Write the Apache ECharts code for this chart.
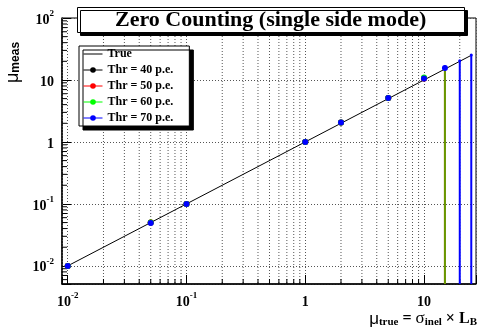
<!DOCTYPE html>
<html><head><meta charset="utf-8">
<script src="https://cdn.jsdelivr.net/npm/echarts@6/dist/echarts.min.js"></script>
<style>html,body{margin:0;padding:0;background:#fff}#c{width:479px;height:331px}</style>
</head><body><div id="c"></div>
<script>
// ---- data ----
const titleText = 'Zero Counting (single side mode)';
const seriesNames = ['True', 'Thr = 40 p.e.', 'Thr = 50 p.e.', 'Thr = 60 p.e.', 'Thr = 70 p.e.'];
const seriesColors = ['#000000', '#000000', '#ff0000', '#00ff00', '#0000ff'];
const xDecades = [0.01, 0.1, 1, 10];
const xTickBase = ['10', '10', '1', '10'];
const xTickExp = ['-2', '-1', '', ''];
const yDecades = [0.01, 0.1, 1, 10, 100];
const yTickBase = ['10', '10', '1', '10', '10'];
const yTickExp = ['-2', '-1', '', '', '2'];
const trueX = [0.01, 25];
const trueY = [0.01, 25];
const muTrue = [0.01, 0.05, 0.1, 1, 2, 5, 10, 15, 20, 25];
const thr40 = [0.01, 0.05, 0.1, 1, 2.05, 5.1, 10.6, null, null, null];
const thr40Lo = [null, null, null, null, null, null, null, null, null, null];
const thr40Hi = [null, null, null, null, null, null, null, null, null, null];
const thr50 = [0.01, 0.05, 0.1, 1, 2.05, 5.1, 10.6, 15.5, null, null];
const thr50Lo = [null, null, null, null, null, null, null, 0, null, null];
const thr50Hi = [null, null, null, null, null, null, null, 15.5, null, null];
const thr60 = [0.01, 0.05, 0.1, 1, 2.05, 5.1, 10.95, 15.5, null, null];
const thr60Lo = [null, null, null, null, null, null, null, 0, null, null];
const thr60Hi = [null, null, null, null, null, null, null, 15.5, null, null];
const thr70 = [0.01, 0.049, 0.1, 1, 2.05, 5.1, 10.6, 15.6, 20.4, 25.2];
const thr70Lo = [null, null, null, null, null, null, null, 14.3, 0, 0];
const thr70Hi = [null, null, null, null, null, null, null, 17.2, 20.8, 25.6];
const xRange = [0.00895, 27.4];
const yRange = [0.0051, 100];

// ---- helpers ----
const serif = 'Liberation Serif';
const sans = 'Liberation Sans';
function minorValues(decades, range) {
  const out = [];
  const all = [decades[0] / 10].concat(decades);
  all.forEach(d => { for (let k = 2; k <= 9; k++) { const v = k * d; if (v > range[0] && v < range[1]) out.push(v); } });
  return out;
}
const xMinor = minorValues(xDecades, xRange);
const yMinor = minorValues(yDecades, yRange);
function labelFor(decades, bases, exps) {
  return function (v) {
    for (let i = 0; i < decades.length; i++) {
      if (Math.abs(Math.log10(v) - Math.log10(decades[i])) < 1e-6) {
        return exps[i] ? '{b|' + bases[i] + '}{s|' + exps[i] + '}' : '{b|' + bases[i] + '}';
      }
    }
    return '';
  };
}
const tickRich = {
  b: { fontSize: 14, fontWeight: 'bold', fontFamily: serif, color: '#000', lineHeight: 18, verticalAlign: 'bottom' },
  s: { fontSize: 9, fontWeight: 'bold', fontFamily: serif, color: '#000', lineHeight: 9, verticalAlign: 'top' }
};
function pts(ys) { return muTrue.map((x, i) => ys[i] == null ? [x, null] : [x, ys[i]]); }
function errs(ys, lo, hi) {
  const out = [];
  muTrue.forEach((x, i) => { if (ys[i] != null && lo[i] != null) out.push([x, ys[i], lo[i], hi[i]]); });
  return out;
}
function errSeries(name, ys, lo, hi, color, opacity) {
  return {
    name: name + ' err', type: 'custom', z: 3,
    data: errs(ys, lo, hi),
    renderItem: function (params, api) {
      const cs = params.coordSys;
      const x = api.value(0), low = api.value(2), high = api.value(3);
      const top = api.coord([x, high]);
      const bottomY = low > yRange[0] ? api.coord([x, low])[1] : cs.y + cs.height;
      return { type: 'line', shape: { x1: top[0], y1: Math.max(top[1], cs.y), x2: top[0], y2: bottomY },
        style: { stroke: color, lineWidth: 2, opacity: opacity } };
    }
  };
}
function pointSeries(name, ys, lo, color) {
  return {
    name: name, type: 'line', z: 5, data: pts(ys), symbol: 'circle',
    symbolSize: (v, p) => lo[p.dataIndex] === 0 ? 3 : 6,
    itemStyle: { color: color }, lineStyle: { width: 0, opacity: 0 },
    connectNulls: false, showSymbol: true, animation: false
  };
}

const chart = echarts.init(document.getElementById('c'), null, { renderer: 'canvas' });
const dotted = { type: [1, 2], color: '#555', width: 1 };
chart.setOption({
  animation: false,
  backgroundColor: '#fff',
  title: {
    text: titleText, left: 77, top: 7,
    padding: [2, 38, 2, 38],
    backgroundColor: '#fff', borderColor: '#000', borderWidth: 1,
    shadowColor: '#000', shadowBlur: 0, shadowOffsetX: 3, shadowOffsetY: 3,
    textStyle: { fontFamily: serif, fontWeight: 'bold', fontSize: 22, color: '#000' }
  },
  legend: {
    orient: 'vertical', left: 79, top: 46, selectedMode: false,
    padding: [2, 16, 2, 4], itemWidth: 19, itemHeight: 7, itemGap: 4,
    backgroundColor: '#fff', borderColor: '#000', borderWidth: 1,
    shadowColor: '#000', shadowBlur: 0, shadowOffsetX: 4, shadowOffsetY: 4,
    textStyle: { fontFamily: serif, fontWeight: 'bold', fontSize: 12, color: '#000' },
    data: seriesNames.map((n, i) => i === 0
      ? { name: n, lineStyle: { width: 1, opacity: 1, color: seriesColors[i] }, itemStyle: { color: 'rgba(0,0,0,0)', borderWidth: 0, opacity: 0 } }
      : { name: n, lineStyle: { width: 1, opacity: 1, color: seriesColors[i] } })
  },
  grid: { left: 62, right: 3, top: 18, bottom: 47, show: true, borderColor: '#000', borderWidth: 1, backgroundColor: 'transparent' },
  xAxis: {
    type: 'log', logBase: 10, min: xRange[0], max: xRange[1],
    axisLine: { lineStyle: { color: '#000', width: 1.5 } },
    axisTick: { inside: true, length: 9, lineStyle: { color: '#000' } },
    axisLabel: { formatter: labelFor(xDecades, xTickBase, xTickExp), margin: 7, rich: tickRich, showMinLabel: true, showMaxLabel: true },
    splitLine: { show: true, lineStyle: dotted }
  },
  yAxis: {
    type: 'log', logBase: 10, min: yRange[0], max: yRange[1],
    axisLine: { lineStyle: { color: '#000', width: 1.5 } },
    axisTick: { inside: true, length: 9, lineStyle: { color: '#000' } },
    axisLabel: { formatter: labelFor(yDecades, yTickBase, yTickExp), margin: 8, rich: tickRich },
    splitLine: { show: true, lineStyle: dotted }
  },
  graphic: [
    { type: 'text', x: 13, y: 83, rotation: Math.PI / 2,
      style: { text: '{m|μ}{s|meas}', align: 'left', verticalAlign: 'middle',
        rich: { m: { fontSize: 18, fontFamily: sans, fill: '#000', lineHeight: 18 },
                s: { fontSize: 12, fontFamily: sans, fontWeight: 'bold', fill: '#000', lineHeight: 11, verticalAlign: 'bottom' } } } },
    { type: 'text', x: 477, y: 319,
      style: { text: '{m|μ}{s|true}{n| = }{g|σ}{s|inel}{n| × L}{s|B}', align: 'right', verticalAlign: 'middle',
        rich: { m: { fontSize: 17, fontFamily: sans, fill: '#000', lineHeight: 17 },
                g: { fontSize: 17, fontFamily: serif, fill: '#000', lineHeight: 17 },
                n: { fontSize: 16, fontFamily: serif, fontWeight: 'bold', fill: '#000', lineHeight: 17 },
                s: { fontSize: 11, fontFamily: serif, fontWeight: 'bold', fill: '#000', lineHeight: 10, verticalAlign: 'bottom' } } } }
  ],
  series: [
    { name: 'xminor', type: 'custom', z: 1, silent: true, data: xMinor.map(v => [v, 1]),
      renderItem: function (params, api) {
        const cs = params.coordSys; const x = api.coord([api.value(0), 1])[0];
        return { type: 'group', children: [
          { type: 'line', shape: { x1: x, y1: cs.y, x2: x, y2: cs.y + cs.height }, style: { stroke: '#555', lineWidth: 1, lineDash: [1, 2] } },
          { type: 'line', shape: { x1: x, y1: cs.y + cs.height, x2: x, y2: cs.y + cs.height - 5 }, style: { stroke: '#000', lineWidth: 1 } }
        ] };
      } },
    { name: 'yminor', type: 'custom', z: 1, silent: true, data: yMinor.map(v => [1, v]),
      renderItem: function (params, api) {
        const cs = params.coordSys; const y = api.coord([1, api.value(1)])[1];
        return { type: 'line', shape: { x1: cs.x, y1: y, x2: cs.x + 5, y2: y }, style: { stroke: '#000', lineWidth: 1 } };
      } },
    { name: 'True', type: 'line', z: 2, data: trueX.map((x, i) => [x, trueY[i]]), symbol: 'none',
      lineStyle: { color: '#000', width: 1 }, itemStyle: { color: '#000' } },
    errSeries(seriesNames[1], thr40, thr40Lo, thr40Hi, seriesColors[1], 1),
    errSeries(seriesNames[2], thr50, thr50Lo, thr50Hi, seriesColors[2], 1),
    errSeries(seriesNames[3], thr60, thr60Lo, thr60Hi, seriesColors[3], 0.6),
    errSeries(seriesNames[4], thr70, thr70Lo, thr70Hi, seriesColors[4], 1),
    pointSeries(seriesNames[1], thr40, thr40Lo, seriesColors[1]),
    pointSeries(seriesNames[2], thr50, thr50Lo, seriesColors[2]),
    pointSeries(seriesNames[3], thr60, thr60Lo, seriesColors[3]),
    pointSeries(seriesNames[4], thr70, thr70Lo, seriesColors[4])
  ]
});
</script></body></html>
